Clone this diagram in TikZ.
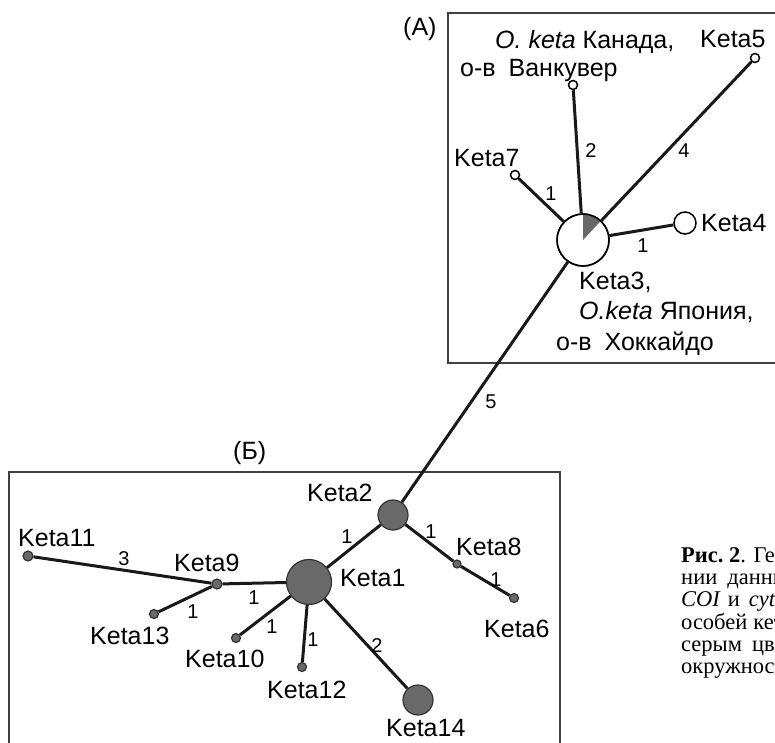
\documentclass[tikz,border=0pt]{standalone}
\usepackage{fontspec}
\setmainfont{Liberation Sans}
\newfontfamily\capfont{Liberation Serif}
\definecolor{hg}{RGB}{105,105,105}
\definecolor{hb}{RGB}{50,50,50}
\begin{document}
\begin{tikzpicture}[x=1pt,y=-1pt,
  lab/.style={inner sep=0pt, anchor=base west, font=\fontsize{25}{28}\selectfont},
  num/.style={inner sep=0pt, anchor=base, font=\fontsize{20}{22}\selectfont},
  captext/.style={inner sep=0pt, anchor=base west, font=\capfont\fontsize{22.5}{23}\selectfont},
  edge/.style={line width=3pt, draw=black!90},
  frame/.style={line width=1.6pt, draw=black!75},
  hopen/.style={circle, draw=black, line width=1.5pt, fill=white, inner sep=0pt},
  hgray/.style={circle, draw=hb, line width=1.2pt, fill=hg, inner sep=0pt}
]
\useasboundingbox (0,0) rectangle (775,742);
\clip (0,0) rectangle (775,742);
% frames
\draw[frame] (448,13) rectangle (800,363);
\draw[frame] (9,472) rectangle (560,780);
% nodes A
\node[hopen, minimum size=52pt] (k3) at (583,240) {};
\node[hopen, minimum size=22pt] (k4) at (685,223) {};
\node[hopen, minimum size=9pt] (k5) at (755,58) {};
\node[hopen, minimum size=9pt] (van) at (573,85) {};
\node[hopen, minimum size=9pt] (k7) at (515,175) {};
% nodes B
\node[hgray, minimum size=30pt] (k2) at (393,515) {};
\node[hgray, minimum size=45pt] (k1) at (309,582) {};
\node[hgray, minimum size=10pt] (k9) at (217,584) {};
\node[hgray, minimum size=10pt] (k11) at (28,556) {};
\node[hgray, minimum size=9pt] (k13) at (154,614) {};
\node[hgray, minimum size=9pt] (k10) at (236,638) {};
\node[hgray, minimum size=9pt] (k12) at (302,667) {};
\node[hgray, minimum size=30pt] (k14) at (418,700) {};
\node[hgray, minimum size=8pt] (k8) at (457,564) {};
\node[hgray, minimum size=9pt] (k6) at (514,598) {};
% wedge in Keta3
\fill[hg] (k3.center) -- ++(0,-26) arc[start angle=-90, end angle=-47, radius=26] -- cycle;
\draw[line width=1.5pt] (k3.center) circle[radius=26];
% edges
\draw[edge] (k3) -- (van);
\draw[edge] (k3) -- (k5);
\draw[edge] (k3) -- (k7);
\draw[edge] (k3) -- (k4);
\draw[edge] (k3) -- (k2);
\draw[edge] (k2) -- (k1);
\draw[edge] (k2) -- (k8);
\draw[edge] (k8) -- (k6);
\draw[edge] (k1) -- (k9);
\draw[edge] (k9) -- (k11);
\draw[edge] (k9) -- (k13);
\draw[edge] (k1) -- (k10);
\draw[edge] (k1) -- (k12);
\draw[edge] (k1) -- (k14);
% labels A
\node[lab] (tA) at (403,35) {(A)};
\node[lab] (tcan) at (495,48) {\textit{O. keta} Канада,};
\node[lab] (t5) at (700,47) {Keta5};
\node[lab] (tvan) at (460,76) {о-в\hspace{6pt} Ванкувер};
\node[lab] (t7) at (454,166) {Keta7};
\node[lab] (t4) at (701,231) {Keta4};
\node[lab] (t3) at (579,289) {Keta3,};
\node[lab] (tjap) at (579,319) {\textit{O.keta} Япония,};
\node[lab] (thok) at (556,350) {о-в\hspace{6pt} Хоккайдо};
\node[num] (n2) at (591,157) {2};
\node[num] (n4) at (684,157) {4};
\node[num] (n7) at (551,200) {1};
\node[num] (n4b) at (643,252) {1};
\node[num] (n5) at (491,408) {5};
% labels B
\node[lab] (tB) at (233,459) {(Б)};
\node[lab] (t2) at (307,501) {Keta2};
\node[lab] (t11) at (18,546) {Keta11};
\node[lab] (t9) at (174,571) {Keta9};
\node[lab] (t13) at (90,644) {Keta13};
\node[lab] (t10) at (185,667) {Keta10};
\node[lab] (t12) at (267,698) {Keta12};
\node[lab] (t1) at (340,586) {Keta1};
\node[lab] (t14) at (386,736) {Keta14};
\node[lab] (t8) at (456,555) {Keta8};
\node[lab] (t6) at (484,637) {Keta6};
\node[num] (m3) at (124,565) {3};
\node[num] (m13) at (193,618) {1};
\node[num] (m9) at (254,604) {1};
\node[num] (m10) at (272,633) {1};
\node[num] (m12) at (313,646) {1};
\node[num] (m2) at (347,543) {1};
\node[num] (m14) at (377,652) {2};
\node[num] (m8) at (431,538) {1};
\node[num] (m6) at (496,586) {1};
% caption (cut off at the right edge)
\node[captext] (c1) at (681,562) {\textbf{Рис.\ 2}. Ген};
\node[captext] (c2) at (681,584.3) {нии\hspace{10pt}данны};
\node[captext] (c3) at (681,606.6) {\textit{COI}\hspace{7pt}и\hspace{9pt}\textit{cytb}};
\node[captext] (c4) at (681,629) {особей\hspace{6pt}кет};
\node[captext] (c5) at (681,651.3) {серым\hspace{10pt}цве};
\node[captext] (c6) at (681,673.6) {окружност};
\end{tikzpicture}
\end{document}
